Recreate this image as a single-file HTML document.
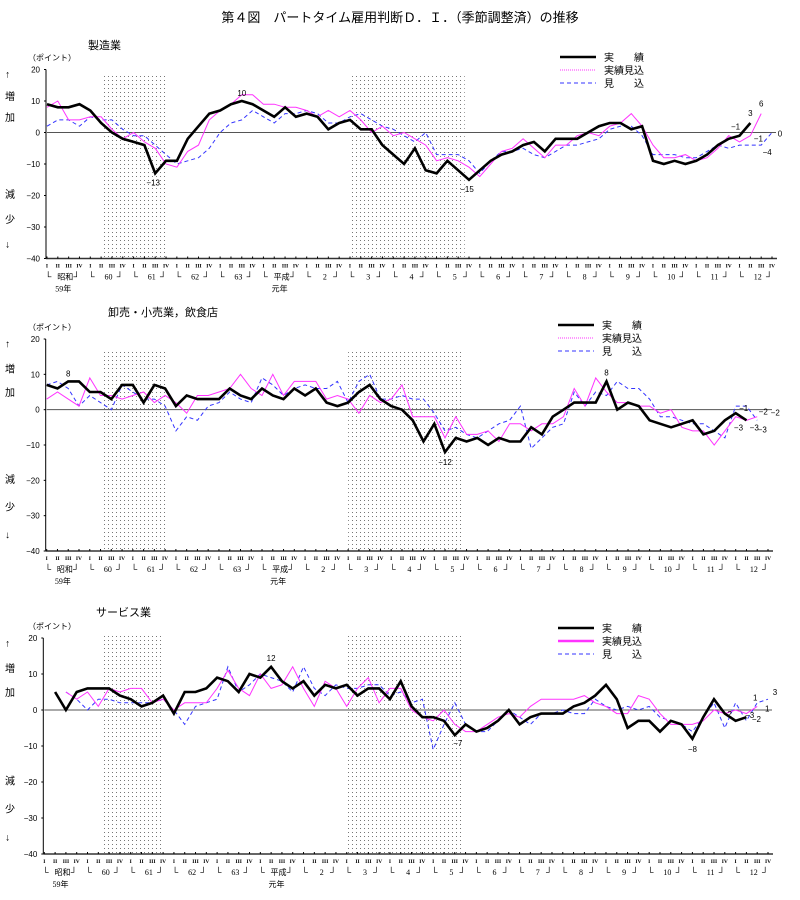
<!DOCTYPE html>
<html><head><meta charset="utf-8">
<style>
body{margin:0;background:#fff;width:800px;height:900px;overflow:hidden;font-family:"Liberation Serif","Noto Serif CJK SC","Noto Sans CJK JP",serif;}
svg{display:block}
text{fill:#000}
</style></head>
<body>
<svg id="chart" width="800" height="900" viewBox="0 0 800 900" xmlns="http://www.w3.org/2000/svg">
<defs>
<pattern id="dots" width="4" height="4" patternUnits="userSpaceOnUse"><rect width="1" height="1" fill="#777"/></pattern>
</defs>
<text x="400" y="22" text-anchor="middle" font-size="13" font-family="'Liberation Sans','Noto Sans CJK JP',sans-serif">第４図　パートタイム雇用判断Ｄ．Ｉ．（季節調整済）の推移</text>
</svg>
<script>
// ---- data (quarters 1984 I .. 2000 IV, index 0..67) ----
const quarterLabels = ["I","II","III","IV"];
const yearLabels = ["昭和","60","61","62","63","平成","2","3","4","5","6","7","8","9","10","11","12"];
const yTicks = [20,10,0,-10,-20,-30,-40];
const shadeStart = [5.25, 28];
const shadeEnd = [11, 38.6];
const seriesNames = ["実　　績","実績見込","見　　込"];

const mfgActual = [9,8,8,9,7,3,0,-2,-3,-4,-13,-9,-9,-2,2,6,7,9,10,9,7,5,8,5,6,5,1,3,4,1,1,-4,-7,-10,-5,-12,-13,-9,-12,-15,-12,-9,-7,-6,-4,-3,-6,-2,-2,-2,0,2,3,3,1,2,-9,-10,-9,-10,-9,-7,-4,-2,-1,3];
const mfgEstActual = [8,10,4,4,5,5,1,-2,0,-3,-5,-10,-11,-6,-4,4,7,9,12,12,9,9,8,8,7,5,7,5,7,4,0,2,-1,0,-2,-4,-9,-8,-9,-11,-14,-10,-6,-5,-2,-5,-8,-4,-4,-1,0,-1,2,3,6,2,-4,-8,-8,-7,-9,-8,-5,-1,-3,-1,6];
const mfgForecast = [2,4,4,2,5,4,4,1,-1,-1,-4,-7,-10,-9,-8,-5,0,3,4,7,5,3,6,6,7,6,3,3,5,6,4,2,1,-1,-3,0,-7,-7,-7,-9,-13,-9,-6,-6,-5,-7,-8,-6,-4,-4,-3,-2,1,2,2,-1,-7,-7,-7,-8,-8,-6,-4,-5,-4,-4,-4,0];

const retActual = [7,6,8,8,5,5,3,7,7,2,7,6,1,4,3,3,3,6,4,3,6,4,3,6,4,6,2,1,2,5,7,3,1,0,-3,-9,-4,-12,-8,-9,-8,-10,-8,-9,-9,-5,-7,-2,0,2,2,2,8,0,2,1,-3,-4,-5,-4,-3,-7,-6,-3,-1,-3];
const retEstActual = [3,5,3,1,9,4,4,3,4,5,2,4,2,-1,4,4,5,6,10,6,4,10,4,8,8,8,3,4,3,-1,4,2,3,7,-2,-2,-2,-8,-2,-7,-7,-6,-9,-4,-4,-6,-4,-4,-2,6,1,9,5,2,2,1,1,-1,0,-5,-6,-6,-10,-6,-2,-3,-2];
const retForecast = [7,8,6,1,4,2,0,7,5,3,3,1,-6,-2,-3,1,2,5,3,2,9,7,4,6,7,6,6,8,2,8,10,3,3,4,3,3,-1,-6,-5,-7,-8,-6,-4,-3,1,-11,-8,-5,-4,5,1,5,4,8,6,6,3,-2,-2,-3,-4,-4,-6,-8,1,1,-3];

const svcActual = [null,5,0,5,6,6,6,4,3,1,2,4,-1,5,5,6,9,8,5,10,9,12,8,6,8,4,7,6,7,4,6,6,3,8,1,-2,-2,-3,-7,-4,-6,-5,-3,0,-4,-2,-1,-1,-1,1,2,4,7,3,-5,-3,-3,-6,-3,-4,-8,-2,3,-1,-3,-2];
const svcEstActual = [null,null,5,3,5,1,6,5,6,6,2,3,0,2,2,2,6,11,6,4,10,6,7,12,6,1,8,6,1,6,9,2,6,6,0,-2,-3,0,-4,-6,-6,-4,-2,-1,-2,1,3,3,3,3,4,2,1,-1,-1,4,3,-1,-4,-4,-4,-3,0,-1,0,-1,1];
const svcForecast = [null,null,5,3,0,3,3,2,2,2,2,3,0,-4,1,2,3,12,5,7,10,9,8,5,12,6,4,7,6,6,7,7,4,5,2,3,-11,-4,2,-4,-6,-6,-3,0,-2,-4,-1,-1,0,-1,-1,3,1,0,1,0,1,-2,-3,-4,-6,-2,2,-5,2,-3,2,3];

const panels = [
 {name:"manufacturing",title:"製造業",tx:88,ty:49,x0:47,x67:772,yTop:69.5,yBot:258.5,shTop:73,leg:[560,57],
  series:[mfgActual,mfgEstActual,mfgForecast],
  notes:[[0,10,-2,12],[0,18,0,-5],[0,39,-2,12],[0,64,-4,-6],[0,65,0,-7],[1,66,0,-7],[1,65,8,6],[2,67,8,4],[2,66,6,10]]},
 {name:"wholesale-retail",title:"卸売・小売業，飲食店",tx:108,ty:316,x0:46.7,x67:768,yTop:339,yBot:551,shTop:350,leg:[558,325],
  series:[retActual,retEstActual,retForecast],
  notes:[[0,2,0,-5],[0,37,0,13],[0,52,0,-6],[0,64,8,-2],[1,66,6,-2],[1,66,18,-1],[0,65,-8,10],[2,66,-3,10],[2,66,5,12]]},
 {name:"services",title:"サービス業",tx:96,ty:616,x0:44.3,x67:768,yTop:638,yBot:854,shTop:633,leg:[558,628],
  series:[svcActual,svcEstActual,svcForecast],
  notes:[[0,21,0,-6],[0,38,3,11],[0,60,0,13],[0,64,14,-3],[0,65,10,5],[2,64,-6,14],[1,66,-2,-6],[1,66,10,5],[2,67,7,-4]]}
];
const colors=["#000","#ff33ff","#3333ff"];
const widths=[2.6,1,1];
const dashes=["","","4,3"];

const svg=document.getElementById('chart');
const NS="http://www.w3.org/2000/svg";
function mk(tag,attrs,parent){const e=document.createElementNS(NS,tag);for(const k in attrs)e.setAttribute(k,attrs[k]);(parent||svg).appendChild(e);return e;}

panels.forEach((p,pi)=>{
  const g=mk('g',{});
  
  
  const xs=i=>p.x0+(p.x67-p.x0)*i/67;
  const ys=v=>p.yTop+(20-v)*(p.yBot-p.yTop)/60;
  // shading
  for(let s=0;s<shadeStart.length;s++){
    const r=mk('rect',{x:xs(shadeStart[s]),y:p.shTop,width:xs(shadeEnd[s])-xs(shadeStart[s]),height:p.yBot-p.shTop,fill:'url(#dots)'},g);
    
    
  }
  // title
  const t=mk('text',{x:p.tx,y:p.ty,'font-size':11,'font-family':"'Liberation Sans','Noto Sans CJK JP',sans-serif"},g);t.textContent=p.title;
  
  
  const u=mk('text',{x:28,y:p.yTop-9,'font-size':8,'font-family':"'Liberation Sans','Noto Sans CJK JP',sans-serif"},g);u.textContent="（ポイント）";
  
  
  // side labels
  const sl=[["↑",0.02],["増",0.14],["加",0.25],["減",0.66],["少",0.79],["↓",0.92]];
  sl.forEach(([c,f])=>{const e=mk('text',{x:5,y:p.yTop+f*(p.yBot-p.yTop)+4,'font-size':10,'font-family':"'Liberation Sans','Noto Sans CJK JP',sans-serif"},g);e.textContent=c;
    
    });
  // y axis
  mk('line',{x1:p.x0-1,y1:p.yTop,x2:p.x0-1,y2:p.yBot,stroke:'#000','stroke-width':1},g);
  yTicks.forEach(v=>{
    mk('line',{x1:p.x0-3,y1:ys(v),x2:p.x0-1,y2:ys(v),stroke:'#000'},g);
    const e=mk('text',{x:p.x0-7,y:ys(v)+3,'font-size':8,'text-anchor':'end','font-family':"'Liberation Sans',sans-serif"},g);e.textContent=v<0?"−"+(-v):v;
    
    
  });
  // zero line
  mk('line',{x1:p.x0,y1:ys(0),x2:p.x67+4,y2:ys(0),stroke:'#555','stroke-width':1},g);
  // x axis
  mk('line',{x1:p.x0-1,y1:p.yBot,x2:p.x67+5,y2:p.yBot,stroke:'#333','stroke-width':1.5},g);
  for(let i=0;i<68;i++){
    mk('line',{x1:xs(i),y1:p.yBot-2,x2:xs(i),y2:p.yBot,stroke:'#000'},g);
    const e=mk('text',{x:xs(i),y:p.yBot+9,'font-size':5.5,'text-anchor':'middle','font-weight':'bold'},g);e.textContent=quarterLabels[i%4];
    
    
  }
  yearLabels.forEach((yl,k)=>{
    const a=mk('text',{x:xs(k*4)-2,y:p.yBot+21,'font-size':9,'font-family':"'Liberation Sans','Noto Sans CJK JP',sans-serif"},g);a.textContent="└";
    const b=mk('text',{x:xs(k*4+3)-6,y:p.yBot+21,'font-size':9,'font-family':"'Liberation Sans','Noto Sans CJK JP',sans-serif"},g);b.textContent="┘";
    const e=mk('text',{x:(xs(k*4)+xs(k*4+3))/2+2,y:p.yBot+21,'font-size':8,'text-anchor':'middle','font-family':"'Liberation Serif','Noto Sans CJK JP',serif"},g);e.textContent=yl;
    
    
  });
  const e1=mk('text',{x:xs(1.5),y:p.yBot+33,'font-size':8,'text-anchor':'middle','font-family':"'Liberation Serif','Noto Sans CJK JP',serif"},g);e1.textContent="59年";
  
  
  const e2=mk('text',{x:xs(21.5),y:p.yBot+33,'font-size':8,'text-anchor':'middle','font-family':"'Liberation Serif','Noto Sans CJK JP',serif"},g);e2.textContent="元年";
  
  
  // series (draw forecast, estimate, actual order)
  [2,1,0].forEach(si=>{
    const data=p.series[si];let d="";let pen=false;
    data.forEach((v,i)=>{if(v===null||v===undefined){pen=false;return;}d+=(pen?"L":"M")+xs(i).toFixed(1)+","+ys(v).toFixed(1);pen=true;});
    const path=mk('path',{d:d,fill:'none',stroke:colors[si],'stroke-width':widths[si],'stroke-dasharray':dashes[si],'stroke-linejoin':'miter'},g);
    
    
  });
  // annotations
  p.notes.forEach(([si,i,dx,dy])=>{
    const v=p.series[si][i];
    const e=mk('text',{x:xs(i)+dx,y:ys(v)+dy,'font-size':8,'text-anchor':'middle','font-family':"'Liberation Sans',sans-serif"},g);e.textContent=v<0?"−"+(-v):v;
    
    
  });
  // legend
  seriesNames.forEach((n,si)=>{
    const ly=p.leg[1]+si*13;
    const l=mk('line',{x1:p.leg[0],y1:ly,x2:p.leg[0]+36,y2:ly,stroke:colors[si],'stroke-width':si==0?2.4:(pi==2&&si==1?2.5:1),'stroke-dasharray':dashes[si]||(si==1&&pi<2?'1,1':'')},g);
    
    
    const e=mk('text',{x:p.leg[0]+44,y:ly+4,'font-size':10,'font-family':"'Liberation Sans','Noto Sans CJK JP',sans-serif"},g);e.textContent=n;
    
    
  });
});
</script>
</body></html>
